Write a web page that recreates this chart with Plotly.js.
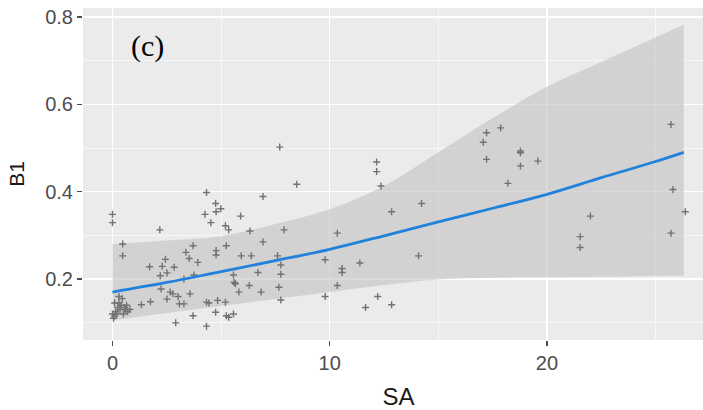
<!DOCTYPE html>
<html>
<head>
<meta charset="utf-8">
<script src="https://cdn.plot.ly/plotly-3.0.1.min.js"></script>
<style>html,body{margin:0;padding:0;background:#fff;overflow:hidden;width:703px;height:410px;}</style>
</head>
<body>
<div id="chart" style="width:720px;height:410px;"></div>
<script>
// Scatter points (SA, B1)
const saValues = [0,0,0.47,0.47,
  0.05,0.1,0.15,0.2,0.25,0.3,0.35,0.4,0.5,0.55,0.6,0.7,0.8,0.45,0.3,0.1,0.0,0.65,
  1.33,1.75,1.71,2.18,2.2,2.24,2.29,2.44,2.51,2.51,2.66,2.78,2.84,2.91,3.02,3.08,3.29,3.29,3.38,3.53,3.57,3.71,3.71,3.75,3.93,
  4.26,4.33,4.33,4.44,4.33,4.53,4.75,4.77,4.77,4.77,4.84,4.75,4.99,5.2,5.35,5.24,5.2,5.24,5.35,5.57,5.57,5.6,5.66,5.82,5.9,5.93,
  6.33,6.39,6.3,6.7,6.84,6.93,6.93,7.6,7.7,7.75,7.75,7.66,7.75,7.9,8.48,
  9.79,9.79,10.35,10.35,10.57,10.57,11.39,11.65,12.16,12.16,12.21,12.36,12.85,12.85,14.09,14.23,
  17.07,17.22,17.22,17.87,18.2,18.78,18.78,18.78,19.58,21.53,21.53,22.0,25.71,25.8,25.71,26.37];
const b1Values = [0.348,0.329,0.280,0.253,
  0.11,0.115,0.125,0.12,0.135,0.145,0.13,0.14,0.12,0.135,0.13,0.125,0.13,0.155,0.16,0.145,0.12,0.14,
  0.141,0.148,0.228,0.3125,0.2076,0.177,0.229,0.245,0.214,0.154,0.170,0.166,0.227,0.0996,0.160,0.143,0.143,0.200,0.261,0.247,0.166,0.276,0.116,0.209,0.238,
  0.348,0.398,0.147,0.145,0.092,0.329,0.373,0.354,0.265,0.255,0.151,0.124,0.361,0.322,0.3125,0.276,0.147,0.116,0.1125,0.120,0.209,0.192,0.189,0.170,0.344,0.253,
  0.31,0.253,0.185,0.215,0.170,0.389,0.285,0.253,0.502,0.232,0.211,0.181,0.152,0.3125,0.417,
  0.244,0.160,0.305,0.185,0.224,0.215,0.2365,0.1346,0.468,0.446,0.160,0.413,0.354,0.141,0.253,0.373,
  0.513,0.535,0.474,0.546,0.419,0.493,0.489,0.459,0.470,0.297,0.272,0.344,0.554,0.405,0.305,0.354];

// Smooth fit and its band
const fitX     = [0, 2.5, 5, 7.5, 10, 12.5, 15, 17.5, 20, 22.5, 25, 26.3];
const fitY     = [0.170, 0.192, 0.217, 0.242, 0.268, 0.299, 0.331, 0.362, 0.394, 0.432, 0.469, 0.490];
const fitUpper = [0.280, 0.288, 0.298, 0.326, 0.360, 0.413, 0.490, 0.568, 0.640, 0.697, 0.753, 0.782];
const fitLower = [0.105, 0.122, 0.138, 0.154, 0.170, 0.186, 0.199, 0.203, 0.204, 0.205, 0.207, 0.208];

const xTicks = [0, 10, 20];
const yTicks = [0.2, 0.4, 0.6, 0.8];
const yTickText = ['0.2', '0.4', '0.6', '0.8'];

const traces = [
  {x: fitX, y: fitLower, type: 'scatter', mode: 'lines', line: {width: 0, color: 'rgba(0,0,0,0)', shape: 'spline'}, hoverinfo: 'skip', showlegend: false},
  {x: fitX, y: fitUpper, type: 'scatter', mode: 'lines', fill: 'tonexty', fillcolor: 'rgba(196,196,196,0.62)', line: {width: 0, color: 'rgba(0,0,0,0)', shape: 'spline'}, hoverinfo: 'skip', showlegend: false},
  {x: saValues, y: b1Values, type: 'scatter', mode: 'markers', showlegend: false,
   marker: {symbol: 'cross-thin', size: 5, color: '#727272', line: {color: '#727272', width: 1.4}}},
  {x: fitX, y: fitY, type: 'scatter', mode: 'lines', showlegend: false, line: {color: '#2181db', width: 2.8, shape: 'spline'}}
];

const layout = {
  width: 720, height: 410,
  margin: {l: 83, r: 6, t: 8, b: 70},
  paper_bgcolor: '#ffffff',
  plot_bgcolor: '#ebebeb',
  showlegend: false,
  font: {family: 'Liberation Sans, Arial, sans-serif', color: '#4d4d4d'},
  xaxis: {
    range: [-1.356, 27.69],
    tickmode: 'array', tickvals: xTicks, ticktext: xTicks.map(String),
    ticks: 'outside', ticklen: 5, tickwidth: 1.2, tickcolor: '#4d4d4d',
    tickfont: {size: 20, color: '#4d4d4d'},
    showgrid: true, gridcolor: '#ffffff', gridwidth: 1.3,
    minor: {tickmode: 'linear', tick0: 5, dtick: 10, showgrid: true, gridcolor: '#ffffff', gridwidth: 0.6, ticks: ''},
    zeroline: false, showline: false,
    title: {text: 'SA', font: {size: 24, color: '#1a1a1a'}, standoff: 15}
  },
  yaxis: {
    range: [0.0603, 0.8206],
    tickmode: 'array', tickvals: yTicks, ticktext: yTickText,
    ticks: 'outside', ticklen: 5, tickwidth: 1.2, tickcolor: '#4d4d4d',
    tickfont: {size: 20, color: '#4d4d4d'},
    showgrid: true, gridcolor: '#ffffff', gridwidth: 1.3,
    minor: {tickmode: 'linear', tick0: 0.1, dtick: 0.2, showgrid: true, gridcolor: '#ffffff', gridwidth: 0.6, ticks: ''},
    zeroline: false, showline: false,
    title: {text: 'B1', font: {size: 21, color: '#1a1a1a'}, standoff: 14}
  },
  annotations: [{
    text: '(c)', x: 1.63, y: 0.734, xref: 'x', yref: 'y', showarrow: false,
    font: {family: 'Liberation Serif, Times New Roman, serif', size: 30, color: '#000000'}
  }]
};

Plotly.newPlot('chart', traces, layout, {displayModeBar: false, staticPlot: true});
</script>
</body>
</html>
